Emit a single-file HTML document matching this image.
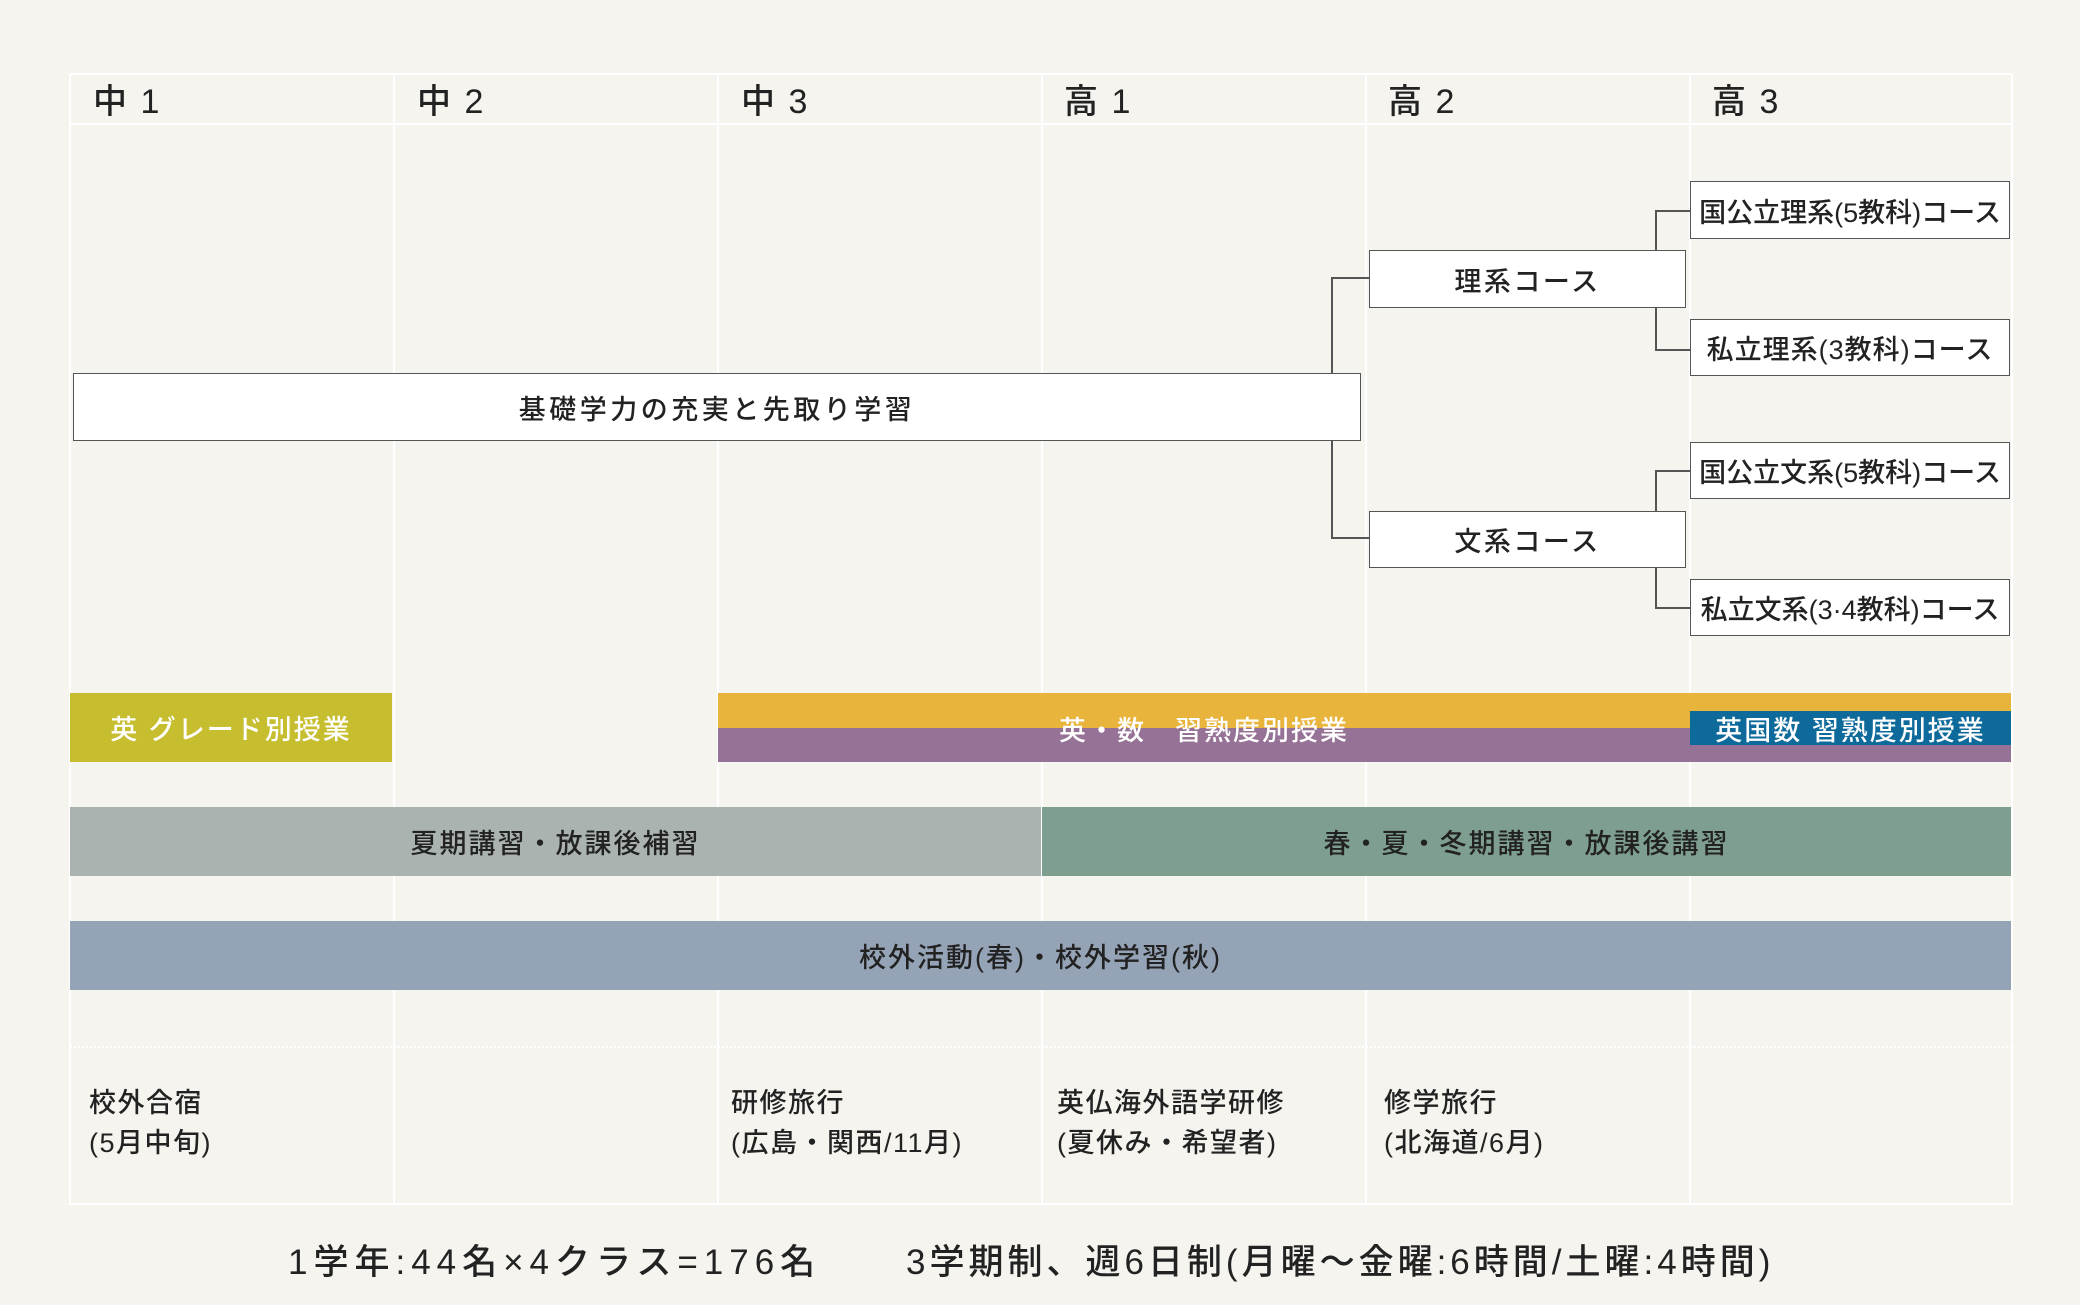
<!DOCTYPE html>
<html><head><meta charset="utf-8"><style>
body{margin:0;width:2080px;height:1305px;background:#f5f4ee;position:relative;overflow:hidden;font-family:"Liberation Sans","Noto Sans CJK JP",sans-serif;color:#222}
.a{position:absolute;box-sizing:border-box}
.v{position:absolute;top:74px;width:2px;height:1131px;background:#fff}
.h{position:absolute;left:70px;width:1942px;height:2px;background:#fff}
.hd{position:absolute;top:74px;font-size:34px;font-weight:500;letter-spacing:2px}
.box{position:absolute;box-sizing:border-box;background:#fff;border:1.5px solid #555;display:flex;align-items:center;justify-content:center;font-size:27px;font-weight:500;letter-spacing:1px}
.band{position:absolute;display:flex;align-items:center;justify-content:center;font-size:27px;font-weight:500;letter-spacing:2px}
.ln{position:absolute;background:#555}
.ev{position:absolute;top:1083px;font-size:27px;line-height:40px;font-weight:500;letter-spacing:1.5px}
</style></head><body>
<div class="v" style="left:69px"></div><div class="v" style="left:393px"></div><div class="v" style="left:717px"></div><div class="v" style="left:1041px"></div><div class="v" style="left:1365px"></div><div class="v" style="left:1689px"></div><div class="v" style="left:2011px"></div>
<div class="h" style="top:73px"></div><div class="h" style="top:123px"></div><div class="h" style="top:1203px"></div>
<div class="a" style="left:70px;top:1046px;width:1942px;border-top:2px dotted #fff"></div>
<div class="hd" style="left:93px">中 1</div><div class="hd" style="left:417px">中 2</div><div class="hd" style="left:741px">中 3</div><div class="hd" style="left:1064px">高 1</div><div class="hd" style="left:1388px">高 2</div><div class="hd" style="left:1712px">高 3</div>

<div class="ln" style="left:1331px;top:277px;width:1.5px;height:261px"></div>
<div class="ln" style="left:1331px;top:277px;width:38px;height:1.5px"></div>
<div class="ln" style="left:1331px;top:537px;width:38px;height:1.5px"></div>
<div class="ln" style="left:1655px;top:210px;width:1.5px;height:40px"></div>
<div class="ln" style="left:1655px;top:210px;width:35px;height:1.5px"></div>
<div class="ln" style="left:1655px;top:308px;width:1.5px;height:42px"></div>
<div class="ln" style="left:1655px;top:349px;width:35px;height:1.5px"></div>
<div class="ln" style="left:1655px;top:470px;width:1.5px;height:41px"></div>
<div class="ln" style="left:1655px;top:470px;width:35px;height:1.5px"></div>
<div class="ln" style="left:1655px;top:567px;width:1.5px;height:41px"></div>
<div class="ln" style="left:1655px;top:607px;width:35px;height:1.5px"></div>

<div class="box" style="left:73px;top:373px;width:1288px;height:68px;letter-spacing:3.5px">基礎学力の充実と先取り学習</div>
<div class="box" style="left:1369px;top:250px;width:317px;height:58px;letter-spacing:2.5px">理系コース</div>
<div class="box" style="left:1369px;top:511px;width:317px;height:57px;letter-spacing:2.5px">文系コース</div>
<div class="box" style="left:1690px;top:181px;width:320px;height:58px;letter-spacing:0">国公立理系(5教科)コース</div>
<div class="box" style="left:1690px;top:319px;width:320px;height:57px">私立理系(3教科)コース</div>
<div class="box" style="left:1690px;top:442px;width:320px;height:57px;letter-spacing:0">国公立文系(5教科)コース</div>
<div class="box" style="left:1690px;top:579px;width:320px;height:57px;letter-spacing:0">私立文系(3·4教科)コース</div>

<div class="band" style="left:70px;top:693px;width:322px;height:69px;background:#c6bd2f;color:#fff">英 グレード別授業</div>
<div class="a" style="left:718px;top:693px;width:1293px;height:35px;background:#e8b43c"></div>
<div class="a" style="left:718px;top:728px;width:1293px;height:34px;background:#967296"></div>
<div class="band" style="left:718px;top:710px;width:972px;height:36px;color:#fff">英・数　習熟度別授業</div>
<div class="band" style="left:1690px;top:711px;width:321px;height:34px;background:#0e6a9a;color:#fff">英国数 習熟度別授業</div>
<div class="band" style="left:70px;top:807px;width:971px;height:69px;background:#aab3b0">夏期講習・放課後補習</div>
<div class="band" style="left:1042px;top:807px;width:969px;height:69px;background:#7e9f90">春・夏・冬期講習・放課後講習</div>
<div class="band" style="left:70px;top:921px;width:1941px;height:69px;background:#95a3b6">校外活動(春)・校外学習(秋)</div>

<div class="ev" style="left:89px">校外合宿<br>(5月中旬)</div>
<div class="ev" style="left:731px">研修旅行<br>(広島・関西/11月)</div>
<div class="ev" style="left:1057px">英仏海外語学研修<br>(夏休み・希望者)</div>
<div class="ev" style="left:1384px">修学旅行<br>(北海道/6月)</div>

<div class="a" style="left:288px;top:1234px;font-size:35px;font-weight:500;white-space:nowrap;letter-spacing:6px">1学年:44名×4クラス=176名</div>
<div class="a" style="left:906px;top:1234px;font-size:35px;font-weight:500;white-space:nowrap;letter-spacing:4px">3学期制、週6日制(月曜～金曜:6時間/土曜:4時間)</div>
</body></html>
